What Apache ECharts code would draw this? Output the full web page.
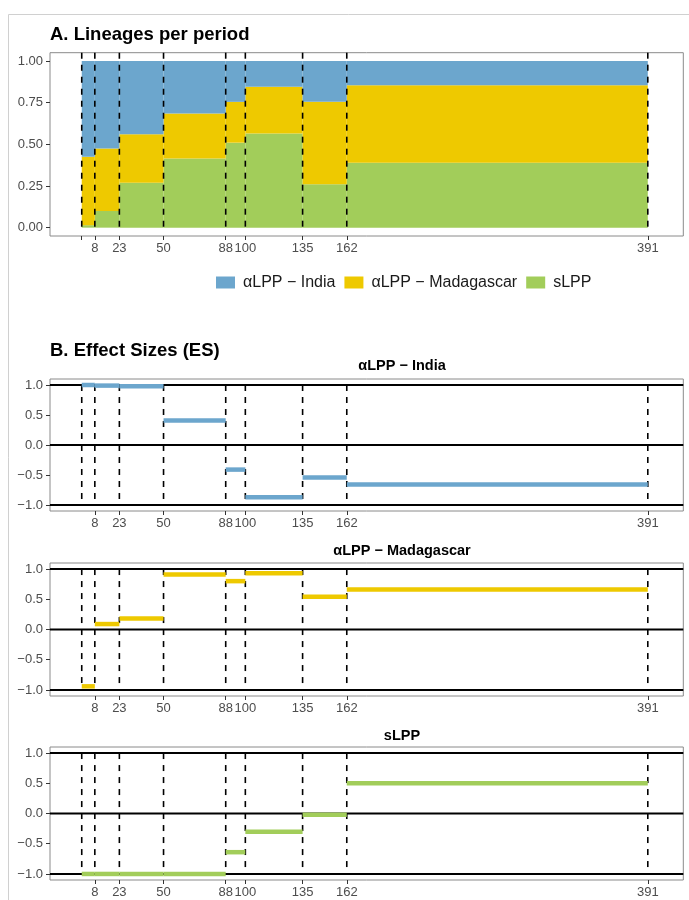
<!DOCTYPE html>
<html>
<head>
<meta charset="utf-8">
<script src="https://cdn.jsdelivr.net/npm/echarts@6/dist/echarts.min.js"></script>
<style>
  html, body { margin: 0; padding: 0; background: #fff; }
  #chart { width: 689px; height: 900px; }
</style>
</head>
<body>
<div id="chart"></div>
<script>
// period boundaries on the x axis (last one is drawn compressed, labelled 391)
const periodEdges = [0, 8, 23, 50, 88, 100, 135, 162, 346];
const edgeLabels = ['', '8', '23', '50', '88', '100', '135', '162', '391'];

const groupNames = ['αLPP − India', 'αLPP − Madagascar', 'sLPP'];
const groupColors = ['#6CA6CD', '#EEC900', '#A2CD5A'];

// A. share of lineages per period
const propIndia = [0.575, 0.525, 0.44, 0.315, 0.245, 0.155, 0.245, 0.145];
const propMadagascar = [0.41, 0.375, 0.29, 0.27, 0.245, 0.28, 0.495, 0.465];
const propSLPP = [0.015, 0.10, 0.27, 0.415, 0.51, 0.565, 0.26, 0.39];

// B. effect sizes per period
const esIndia = [1.0, 0.99, 0.98, 0.41, -0.41, -0.87, -0.54, -0.66];
const esMadagascar = [-0.94, 0.09, 0.18, 0.91, 0.80, 0.93, 0.54, 0.66];
const esSLPP = [-1.0, -1.0, -1.0, -1.0, -0.64, -0.30, -0.02, 0.50];

const yTicksA = [0, 0.25, 0.5, 0.75, 1];
const yTicksB = [-1, -0.5, 0, 0.5, 1];
const refLinesB = [-1, 0, 1];

const FONT = '"Liberation Sans", Arial, Helvetica, sans-serif';
const X_MIN = -19.4, X_MAX = 367.7;

const chart = echarts.init(document.getElementById('chart'));

const grids = [
  { left: 50, top: 52.7, width: 633.3, height: 183.3 },
  { left: 50, top: 379, width: 633.3, height: 132 },
  { left: 50, top: 563, width: 633.3, height: 133 },
  { left: 50, top: 747, width: 633.3, height: 133 }
].map(g => Object.assign({ show: true, borderColor: '#8a8a8a', borderWidth: 1, backgroundColor: 'transparent' }, g));

const xAxes = grids.map((g, i) => ({
  type: 'value',
  gridIndex: i,
  min: X_MIN,
  max: X_MAX,
  splitLine: { show: false },
  axisLine: { show: false, onZero: false },
  axisTick: {
    show: true,
    customValues: i === 0 ? periodEdges : periodEdges.slice(1),
    length: 4,
    lineStyle: { color: '#333' }
  },
  axisLabel: {
    customValues: periodEdges.slice(1),
    formatter: v => edgeLabels[periodEdges.indexOf(v)],
    color: '#4d4d4d',
    fontSize: 13,
    fontFamily: FONT,
    margin: 6
  }
}));

const yAxes = grids.map((g, i) => {
  const isA = i === 0;
  const ticks = isA ? yTicksA : yTicksB;
  return {
    type: 'value',
    gridIndex: i,
    min: isA ? -0.05 : -1.1,
    max: isA ? 1.05 : 1.1,
    splitLine: { show: false },
    axisLine: { show: false, onZero: false },
    axisTick: { show: true, customValues: ticks, length: 4, lineStyle: { color: '#333' } },
    axisLabel: {
      customValues: ticks,
      formatter: v => (isA ? v.toFixed(2) : v.toFixed(1)).replace('-', '−'),
      color: '#4d4d4d',
      fontSize: 13,
      fontFamily: FONT,
      margin: 7
    }
  };
});

// stacked rectangles for panel A
function rectItem(params, api) {
  const p0 = api.coord([api.value(0), api.value(3)]);
  const p1 = api.coord([api.value(1), api.value(2)]);
  return {
    type: 'rect',
    shape: { x: p0[0], y: p0[1], width: p1[0] - p0[0], height: p1[1] - p0[1] },
    style: { fill: api.visual('color') }
  };
}

const stackOrder = [
  { name: groupNames[2], color: groupColors[2], vals: propSLPP },
  { name: groupNames[1], color: groupColors[1], vals: propMadagascar },
  { name: groupNames[0], color: groupColors[0], vals: propIndia }
];
const base = periodEdges.slice(0, -1).map(() => 0);
const series = [];
stackOrder.forEach(g => {
  const data = g.vals.map((v, k) => {
    const row = [periodEdges[k], periodEdges[k + 1], base[k], base[k] + v];
    base[k] += v;
    return row;
  });
  series.push({
    type: 'custom', name: g.name, xAxisIndex: 0, yAxisIndex: 0,
    itemStyle: { color: g.color },
    renderItem: rectItem,
    encode: { x: [0, 1], y: [2, 3] },
    data: data,
    z: 2
  });
});

// dashed period lines
function vlineSeries(idx, yFrom, yTo) {
  return {
    type: 'custom', xAxisIndex: idx, yAxisIndex: idx, silent: true, z: 4,
    renderItem: (params, api) => {
      const a = api.coord([api.value(0), yFrom]);
      const b = api.coord([api.value(0), yTo]);
      return {
        type: 'line',
        shape: { x1: a[0], y1: a[1], x2: b[0], y2: b[1] },
        style: { stroke: '#000', lineWidth: 1.6, lineDash: [6, 6] }
      };
    },
    encode: { x: 0 },
    data: periodEdges.map(x => [x])
  };
}
series.push(vlineSeries(0, 1.05, 0));

// effect-size panels
const esSets = [esIndia, esMadagascar, esSLPP];
esSets.forEach((es, j) => {
  const idx = j + 1;
  series.push(vlineSeries(idx, 1, -1));
  series.push({
    type: 'custom', xAxisIndex: idx, yAxisIndex: idx, silent: true, z: 5,
    renderItem: (params, api) => {
      const cs = params.coordSys;
      const p = api.coord([0, api.value(1)]);
      return {
        type: 'line',
        shape: { x1: cs.x, y1: p[1], x2: cs.x + cs.width, y2: p[1] },
        style: { stroke: '#000', lineWidth: 2 }
      };
    },
    encode: { x: 0, y: 1 },
    data: refLinesB.map(y => [0, y])
  });
  series.push({
    type: 'custom', name: 'ES ' + groupNames[j], xAxisIndex: idx, yAxisIndex: idx, z: 8,
    itemStyle: { color: groupColors[j] },
    renderItem: (params, api) => {
      const a = api.coord([api.value(0), api.value(2)]);
      const b = api.coord([api.value(1), api.value(2)]);
      return {
        type: 'line',
        shape: { x1: a[0], y1: a[1], x2: b[0], y2: b[1] },
        style: { stroke: api.visual('color'), lineWidth: 4.5, lineCap: 'butt' }
      };
    },
    encode: { x: [0, 1], y: 2 },
    data: es.map((v, k) => [periodEdges[k], periodEdges[k + 1], v])
  });
});

const titleText = (txt, x, y, size, align) => ({
  type: 'text', x: x, y: y,
  style: {
    text: txt, fill: '#000', font: 'bold ' + size + 'px ' + FONT,
    textAlign: align, textVerticalAlign: 'middle'
  }
});

const option = {
  animation: false,
  backgroundColor: '#fff',
  grid: grids,
  xAxis: xAxes,
  yAxis: yAxes,
  legend: {
    data: groupNames,
    left: 216,
    top: 274.5,
    padding: 0,
    icon: 'rect',
    itemWidth: 19,
    itemHeight: 12,
    itemGap: 9,
    selectedMode: false,
    textStyle: { fontSize: 16, color: '#1a1a1a', fontFamily: FONT, padding: [0, 0, 0, 3] }
  },
  graphic: [
    { type: 'line', shape: { x1: 8.5, y1: 14.5, x2: 689, y2: 14.5 }, style: { stroke: '#d0d0d0', lineWidth: 1 } },
    { type: 'line', shape: { x1: 8.5, y1: 14.5, x2: 8.5, y2: 900 }, style: { stroke: '#d0d0d0', lineWidth: 1 } },
    titleText('A. Lineages per period', 50, 35.3, 18.5, 'left'),
    titleText('B. Effect Sizes (ES)', 50, 350.5, 18.5, 'left'),
    titleText(groupNames[0], 402, 366, 14.5, 'center'),
    titleText(groupNames[1], 402, 551, 14.5, 'center'),
    titleText(groupNames[2], 402, 736, 14.5, 'center')
  ],
  series: series
};

chart.setOption(option);
</script>
</body>
</html>
